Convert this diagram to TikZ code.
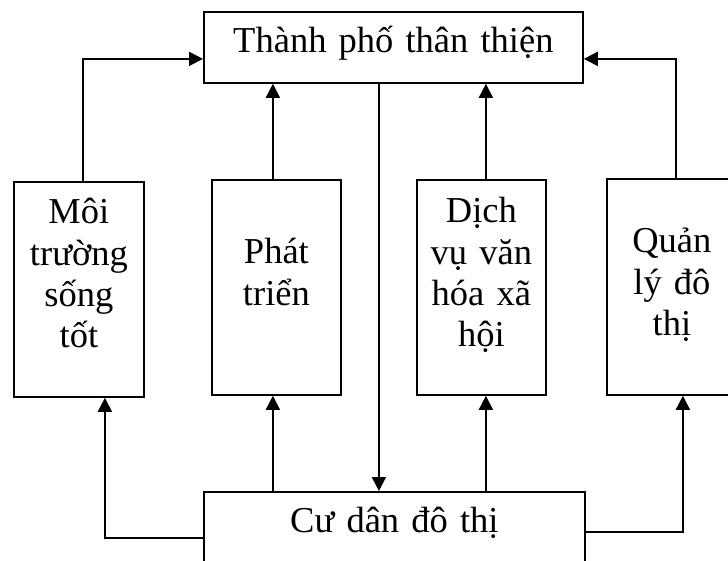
\documentclass[tikz,border=0pt]{standalone}
\usepackage{fontspec}
\setmainfont{Liberation Serif}
\usetikzlibrary{arrows.meta}
\begin{document}
\begin{tikzpicture}[x=1bp,y=-1bp,
  box/.style={draw,line width=1.8bp,inner sep=0pt,anchor=north west,align=center,
    font=\fontsize{36.5bp}{41.3bp}\selectfont},
  arr/.style={line width=1.8bp,-{Triangle[length=14bp,width=14bp]}}]
\useasboundingbox (0,0) rectangle (728,561);
\clip (0,0) rectangle (728,561);
\node[box,text width=379bp,text height=41bp,text depth=30bp] (top) at (203,11) {Thành phố thân thiện};
\node[box,text width=381bp,text height=41bp,text depth=68bp] (bot) at (203,491) {Cư dân đô thị};
\node[box,text width=130bp,text height=42bp,text depth=173bp] (b1) at (13,181) {Môi\\trường\\sống\\tốt};
\node[box,text width=129bp,text height=84bp,text depth=131bp] (b2) at (211,179) {Phát\\triển};
\node[box,text width=129bp,text height=43bp,text depth=172bp] (b3) at (416,179) {Dịch\\vụ văn\\hóa xã\\hội};
\node[box,text width=130bp,text height=74bp,text depth=142bp] (b4) at (606,178) {Quản\\lý đô\\thị};
% up to the top box
\draw[arr] ([xshift=4bp]b1.north) |- ([yshift=-11.5bp]top.west);
\draw[arr] ([xshift=-3.5bp]b2.north) -- ([xshift=-3.5bp]b2.north |- top.south);
\draw[arr] ([xshift=4.5bp]b3.north) -- ([xshift=4.5bp]b3.north |- top.south);
\draw[arr] ([xshift=4bp]b4.north) |- ([yshift=-11.5bp]top.east);
% top to residents
\draw[arr] ([xshift=-14.5bp]top.south) -- ([xshift=-14.5bp]top.south |- bot.north);
% residents to the four boxes
\draw[arr] ([yshift=-47bp]bot.north west) -| ([xshift=26bp]b1.south);
\draw[arr] ([xshift=-3.5bp]b2.south |- bot.north) -- ([xshift=-3.5bp]b2.south);
\draw[arr] ([xshift=4.5bp]b3.south |- bot.north) -- ([xshift=4.5bp]b3.south);
\draw[arr] ([yshift=-41bp]bot.north east) -| ([xshift=11bp]b4.south);
\end{tikzpicture}
\end{document}
